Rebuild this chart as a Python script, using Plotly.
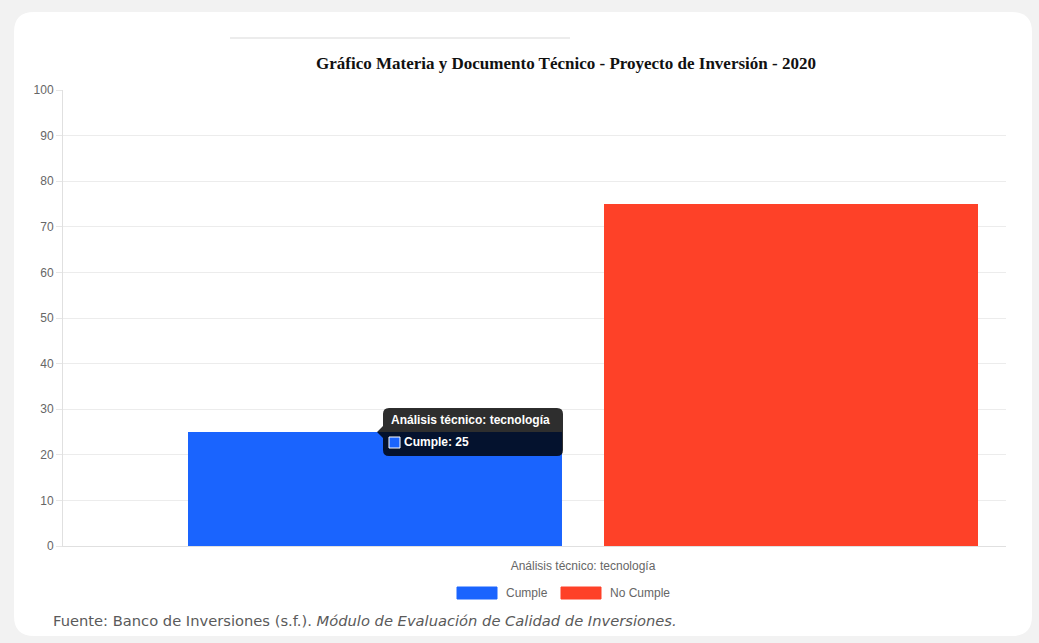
import plotly.graph_objects as go

# data
categories = ["Análisis técnico: tecnología"]
series_names = ["Cumple", "No Cumple"]
cumple = [25]
no_cumple = [75]
series_colors = ["#1a64fe", "#fe4128"]
y_ticks = list(range(0, 101, 10))

title = "Gráfico Materia y Documento Técnico - Proyecto de Inversión - 2020"
source_plain = "Fuente: Banco de Inversiones (s.f.). "
source_italic = "Módulo de Evaluación de Calidad de Inversiones."

W, H = 1039, 643
L, R, T, B = 63, 33, 90, 97
PW, PH = W - L - R, H - T - B
BARGAP = 0.1177


def px_x(px):
    return (px - L) / PW


def px_y(py):
    return (H - B - py) / PH


fig = go.Figure()
for name, vals, col in zip(series_names, [cumple, no_cumple], series_colors):
    fig.add_trace(go.Bar(x=categories, y=vals, name=name, marker_color=col,
                         marker_line_width=0, hoverinfo="skip"))

# group is shifted right inside the axis, like the original
left = -(583 - L) / PW
fig.update_xaxes(range=[left, left + 1], showgrid=False, showline=True,
                 linecolor="#e0e0e0", ticks="", ticklabelstandoff=9,
                 tickfont=dict(family="Liberation Sans, Arial", size=12, color="#666"))
fig.update_yaxes(range=[0, 100], tickvals=y_ticks, showgrid=True, gridcolor="#ececec",
                 showline=True, linecolor="#e0e0e0", ticks="outside", ticklen=6,
                 tickcolor="#e6e6e6", zeroline=False,
                 tickfont=dict(family="Liberation Sans, Arial", size=12, color="#666"))

shapes = []
# white card on grey page
cx0, cx1, cy0, cy1, r = 14, 1032, 12, 636, 20
shapes.append(dict(
    type="path", xref="paper", yref="paper", layer="below",
    xsizemode="pixel", ysizemode="pixel", xanchor=0, yanchor=0,
    path=(f"M{cx0 - L + r},{H - B - cy0} L{cx1 - L - r},{H - B - cy0} "
          f"Q{cx1 - L},{H - B - cy0} {cx1 - L},{H - B - cy0 - r} "
          f"L{cx1 - L},{H - B - cy1 + r} Q{cx1 - L},{H - B - cy1} {cx1 - L - r},{H - B - cy1} "
          f"L{cx0 - L + r},{H - B - cy1} Q{cx0 - L},{H - B - cy1} {cx0 - L},{H - B - cy1 + r} "
          f"L{cx0 - L},{H - B - cy0 - r} Q{cx0 - L},{H - B - cy0} {cx0 - L + r},{H - B - cy0} Z"),
    fillcolor="white", line_width=0))
# faint rule above the title
shapes.append(dict(type="line", xref="paper", yref="paper", layer="below",
                   x0=px_x(230), x1=px_x(570), y0=px_y(38), y1=px_y(38),
                   line=dict(color="#ececec", width=2)))

# tooltip on the Cumple bar
blue_x = -(1 - BARGAP) / 4
tip_y = cumple[0]
shapes.append(dict(
    type="path", xref="x", yref="y", xsizemode="pixel", ysizemode="pixel",
    xanchor=blue_x, yanchor=tip_y,
    path=("M2,0 L8,6 L8,18 Q8,24 14,24 L182,24 Q188,24 188,18 L188,-18 "
          "Q188,-24 182,-24 L14,-24 Q8,-24 8,-18 L8,-6 Z"),
    fillcolor="rgba(0,0,0,0.82)", line_width=0))
shapes.append(dict(
    type="rect", xref="x", yref="y", xsizemode="pixel", ysizemode="pixel",
    xanchor=blue_x, yanchor=tip_y, x0=14, x1=25, y0=-5, y1=-16,
    fillcolor=series_colors[0], line=dict(color="white", width=1)))

annotations = [
    dict(xref="x", yref="y", x=blue_x, y=tip_y, xshift=14, yshift=12,
         xanchor="left", yanchor="middle", showarrow=False,
         text=f"<b>{categories[0]}</b>",
         font=dict(family="Liberation Sans, Arial", size=12, color="white")),
    dict(xref="x", yref="y", x=blue_x, y=tip_y, xshift=27, yshift=-10,
         xanchor="left", yanchor="middle", showarrow=False,
         text=f"<b>{series_names[0]}: {cumple[0]}</b>",
         font=dict(family="Liberation Sans, Arial", size=12, color="white")),
]

# legend drawn like chart.js: wide boxes, centred under the axis
legend_x = [457, 561]
for name, col, lx in zip(series_names, series_colors, legend_x):
    shapes.append(dict(type="rect", xref="paper", yref="paper",
                       x0=px_x(lx), x1=px_x(lx + 40), y0=px_y(599), y1=px_y(587),
                       fillcolor=col, line=dict(color=col, width=1)))
    annotations.append(dict(xref="paper", yref="paper", x=px_x(lx + 47), y=px_y(593),
                            xanchor="left", yanchor="middle", showarrow=False, text=name,
                            font=dict(family="Liberation Sans, Arial", size=12, color="#666")))

annotations.append(dict(
    xref="paper", yref="paper", x=px_x(51), y=px_y(620), xanchor="left", yanchor="middle",
    showarrow=False, text=f"{source_plain}<i>{source_italic}</i>",
    font=dict(family="DejaVu Sans", size=14.7, color="#5a5a5a")))

fig.update_layout(
    width=W, height=H, margin=dict(l=L, r=R, t=T, b=B),
    paper_bgcolor="#f2f2f2", plot_bgcolor="rgba(0,0,0,0)",
    barmode="group", bargap=BARGAP, bargroupgap=0.101,
    showlegend=False,
    title=dict(text=f"<b>{title}</b>", x=566 / W, xanchor="center",
               y=1 - 63 / H, yanchor="middle",
               font=dict(family="Liberation Serif, Times New Roman", size=17, color="#111")),
    shapes=shapes, annotations=annotations,
)

# page body has a default 8px margin; drop it so the figure fills the window
fig.write_html("out.html", config={"displayModeBar": False},
               post_script="document.body.style.margin='0';"
                           "document.body.style.background='#f2f2f2';")
